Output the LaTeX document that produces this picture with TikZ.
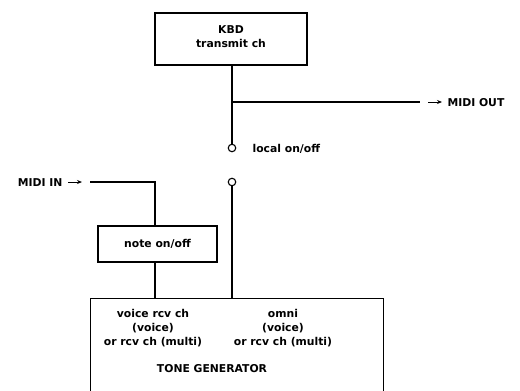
\documentclass[tikz,border=0pt]{standalone}
\usepackage{fontspec}
\setmainfont{DejaVu Sans}
\newfontfamily\lblfont{DejaVu Sans Bold}
\usetikzlibrary{arrows.meta}
\begin{document}
\begin{tikzpicture}[x=1pt,y=-1pt,
  line width=1.1pt,
  box/.style={draw,line width=1.1pt,inner sep=0pt},
  txt/.style={font=\lblfont\fontsize{10.8}{14}\selectfont,inner sep=0pt,align=center},
  term/.style={circle,draw,line width=1.1pt,minimum size=7.5pt,inner sep=0pt,fill=white},
  arr/.style={-{Stealth[length=5pt,width=4pt]},line width=1pt}]
\useasboundingbox (0,0) rectangle (520,391);
% KBD box
\node[box,minimum width=152pt,minimum height=52pt] (kbd) at (231,39) {};
\node[txt] (kbdt) at (231,37) {KBD\\transmit ch};
% switch contacts
\node[term] (c1) at (232,148) {};
\node[term] (c2) at (232,182) {};
\node[txt,anchor=west] (loc) at (252,149) {local on/off};
% MIDI OUT
\coordinate (j1) at (232,102);
\coordinate (oe) at (420,102);
\coordinate (oa1) at (428,102);
\coordinate (oa2) at (442,102);
\node[txt,anchor=west] (mout) at (447,103) {MIDI OUT};
\draw (c1.north |- kbd.south) -- (c1.north);
\draw (j1) -- (oe);
\draw[arr] (oa1) -- (oa2);
% note on/off box
\node[box,minimum width=119pt,minimum height=36pt] (note) at (157.5,244) {};
\node[txt] (notet) at (157.5,244) {note on/off};
% MIDI IN
\node[txt,anchor=east] (min) at (63,183) {MIDI IN};
\coordinate (ia1) at (68,182);
\coordinate (ia2) at (82,182);
\coordinate (ist) at (90,182);
\coordinate (icorner) at (155,182);
\draw[arr] (ia1) -- (ia2);
\draw (ist) -- (icorner) -- (icorner |- note.north);
% tone generator
\node[box,minimum width=293pt,minimum height=110pt,anchor=north west] (tg) at (90,298) {};
\node[txt] (v1) at (153,328) {voice rcv ch\\(voice)\\or rcv ch (multi)};
\node[txt] (v2) at (283,328) {omni\\(voice)\\or rcv ch (multi)};
\node[txt] (tgt) at (212,369) {TONE GENERATOR};
\draw (icorner |- note.south) -- (icorner |- tg.north);
\draw (c2.south) -- (c2.south |- tg.north);
\end{tikzpicture}
\end{document}
